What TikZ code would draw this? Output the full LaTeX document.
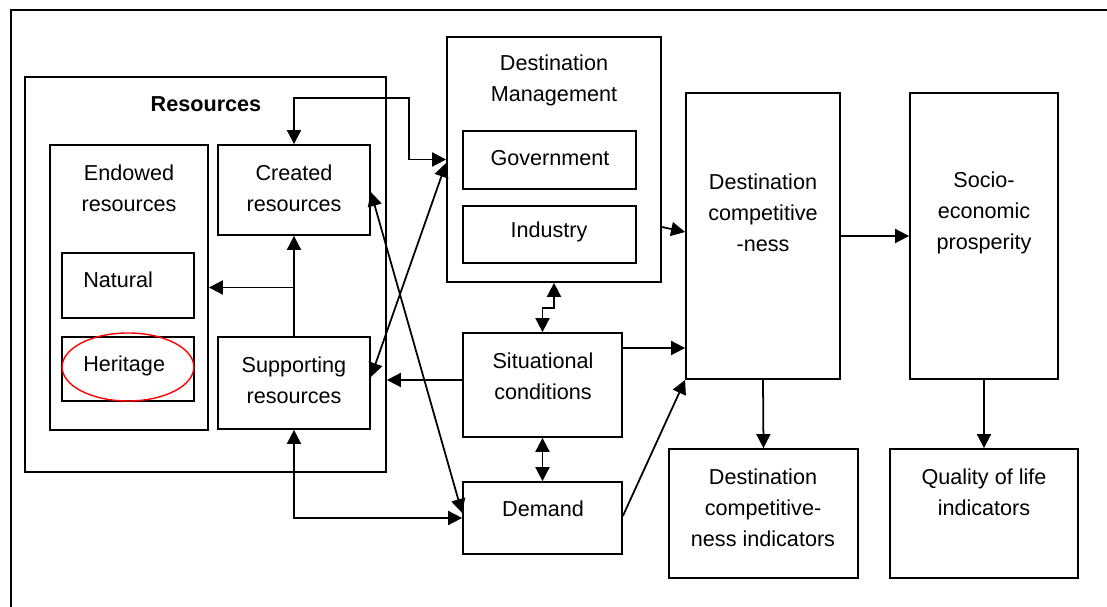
\documentclass[tikz,border=0pt]{standalone}
\usepackage{fontspec}
\setmainfont{Liberation Sans}
\usetikzlibrary{arrows.meta,fit,shapes.geometric}

\begin{document}
\begin{tikzpicture}[x=0.02cm,y=-0.02cm,
    box/.style={draw,line width=1pt,inner sep=0pt},
    lbl/.style={align=center,inner sep=0pt,font=\fontsize{12.3}{17.6}\selectfont},
    arr/.style={line width=1pt,-{Triangle[length=8pt,width=8pt]}},
    dbl/.style={line width=1pt,{Triangle[length=8pt,width=8pt]}-{Triangle[length=8pt,width=8pt]}},
    oval/.style={draw=red,line width=0.8pt,ellipse,minimum width=75pt,minimum height=38.7pt,inner sep=0pt}]
      \useasboundingbox (0,0) rectangle (1107,607);
      \draw[line width=1pt] (11,607) |- (1107,10);
      % resources
      \node[box,fit={(25,77) (386,472)}] (res) {};
      \node[box,fit={(50,145) (208,430)}] (endw) {};
      \node[box,fit={(62,253) (194,318)}] (nat) {};
      \node[box,fit={(62,337) (194,401)}] (her) {};
      \node[box,fit={(218,145) (370,235)}] (cre) {};
      \node[box,fit={(218,337) (370,429)}] (sup) {};
      \node[oval] (herOval) at (128,367) {};
      \node[lbl,font=\fontsize{12.3}{17.6}\selectfont\bfseries] (resT) at (206,104) {Resources};
      \node[lbl] (endwT) at (129,188) {Endowed\\resources};
      \node[lbl,anchor=west] (natT) at (83,280) {Natural};
      \node[lbl,anchor=west] (herT) at (83,366) {Heritage};
      \node[lbl] (creT) at (294,188) {Created\\resources};
      \node[lbl] (supT) at (294,380) {Supporting\\resources};
      % middle column
      \node[box,fit={(447,37) (661,282)}] (dm) {};
      \node[box,fit={(463,131) (636,189)}] (gov) {};
      \node[box,fit={(463,206) (636,263)}] (ind) {};
      \node[box,fit={(463,333) (622,437)}] (sit) {};
      \node[box,fit={(463,482) (622,554)}] (dem) {};
      \node[lbl] (dmT) at (554,80) {Destination\\Management};
      \node[lbl] (govT) at (550,158) {Government};
      \node[lbl] (indT) at (549,232) {Industry};
      \node[lbl] (sitT) at (543,376) {Situational\\conditions};
      \node[lbl] (demT) at (543,509) {Demand};
      % right side
      \node[box,fit={(686,93) (840,379)}] (dc) {};
      \node[box,fit={(910,93) (1058,379)}] (se) {};
      \node[box,fit={(669,449) (858,578)}] (dci) {};
      \node[box,fit={(890,449) (1078,578)}] (qol) {};
      \node[lbl] (dcT) at (763,213) {Destination\\competitive\\-ness};
      \node[lbl] (seT) at (984,213) {Socio-\\economic\\prosperity};
      \node[lbl] (dciT) at (763,508) {Destination\\competitive-\\ness indicators};
      \node[lbl] (qolT) at (984,492) {Quality of life\\indicators};
      % links
      \draw[arr] (sup.north) -- (cre.south);
      \draw[arr] (sup.north |- endw.east) -- (endw.east);
      \draw[dbl] (cre.north) |- (409,98) |- (dm.west);
      \draw[dbl] (sup.east |- 0,377) -- (dm.west |- 0,163);
      \draw[dbl] (cre.east |- 0,192) -- (dem.west |- 0,513);
      \draw[dbl] (sup.south) |- (dem.west);
      \draw[arr] (sit.west |- 0,380) -- (res.east |- 0,380);
      \draw[dbl] (dm.south) -- ++(0,25) -| (sit.north);
      \draw[dbl] (sit.south) -- (dem.north);
      \draw[arr] (sit.east |- 0,348) -- (dc.west |- 0,348);
      \draw[arr] (dem.east |- 0,516) -- (dc.south west);
      \draw[arr] (dm.east |- 0,227) -- (dc.west |- 0,232);
      \draw[arr] (dc.east) -- (se.west);
      \draw[arr] (dc.south) -- (dci.north);
      \draw[arr] (se.south) -- (qol.north);
\end{tikzpicture}
\end{document}
